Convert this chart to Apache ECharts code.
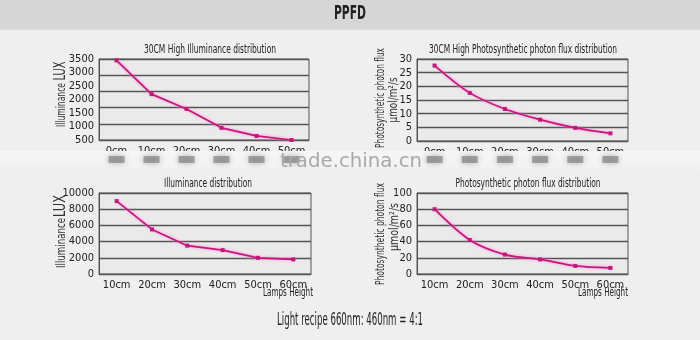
<!DOCTYPE html>
<html>
<head>
<meta charset="utf-8">
<script src="https://cdn.jsdelivr.net/npm/echarts@6/dist/echarts.min.js"></script>
<style>
  html, body { margin: 0; padding: 0; background: #efefef; }
  #chart { width: 700px; height: 340px; }
</style>
</head>
<body>
<div id="chart"></div>
<script>
// Lamp heights (x categories)
var heightsHigh = ['0cm', '10cm', '20cm', '30cm', '40cm', '50cm'];
var heightsLow = ['10cm', '20cm', '30cm', '40cm', '50cm', '60cm'];

// Measured values
var luxHigh = [3450, 2200, 1650, 950, 650, 500];
var ppfdHigh = [27.6, 17.6, 11.7, 7.8, 4.8, 2.8];
var luxLow = [9000, 5500, 3500, 2950, 2000, 1800];
var ppfdLow = [80, 42, 24, 18, 10, 7.5];

// Tick ranges
var luxHighTicks = { min: 500, max: 3500, interval: 500 };
var ppfdHighTicks = { min: 0, max: 30, interval: 5 };
var luxLowTicks = { min: 0, max: 10000, interval: 2000 };
var ppfdLowTicks = { min: 0, max: 100, interval: 20 };

var FONT = '"DejaVu Sans", sans-serif';
var LINE = '#c8157c';
var GRIDLINE = '#555';
var INK = '#222';

var chart = echarts.init(document.getElementById('chart'));

// width of a string in a given font, used to squeeze captions into a narrow face
var measureCtx = document.createElement('canvas').getContext('2d');
function textWidth(text, font) {
  measureCtx.font = font;
  return measureCtx.measureText(text).width;
}

// centred caption compressed horizontally to the given width
function caption(text, cx, cy, width, size, opts) {
  opts = opts || {};
  var weight = opts.weight || 'normal';
  var font = weight + ' ' + size + 'px ' + (opts.family || FONT);
  var w = textWidth(text, font);
  return {
    type: 'text', z: opts.z || 110,
    x: cx, y: cy,
    rotation: opts.rotation || 0,
    scaleX: width / w, scaleY: 1,
    style: {
      text: text, x: 0, y: 0, font: font,
      fill: opts.fill || INK, align: 'center', verticalAlign: 'middle',
      opacity: opts.opacity == null ? 1 : opts.opacity
    }
  };
}

function grid(l, t, w, h) {
  return {
    left: l, top: t, width: w, height: h, show: true,
    backgroundColor: '#eaeaea', borderColor: '#555', borderWidth: 1
  };
}

// tick labels use the condensed face of DejaVu Sans
var tickText = { color: INK, fontFamily: FONT, fontWeight: 'condensed', fontSize: 11 };

function xAxis(idx, cats) {
  return {
    type: 'category', gridIndex: idx, data: cats, boundaryGap: true,
    axisLine: { lineStyle: { color: '#555' } },
    axisTick: { show: false },
    axisLabel: Object.assign({ margin: 6, interval: 0 }, tickText),
    splitLine: { show: false }
  };
}

function yAxis(idx, ticks, showSplit) {
  return {
    type: 'value', gridIndex: idx,
    min: ticks.min, max: ticks.max, interval: ticks.interval,
    axisLine: { show: true, lineStyle: { color: '#555' } },
    axisTick: { show: false },
    axisLabel: Object.assign({
      margin: 5,
      formatter: function (v) { return String(v); }
    }, tickText),
    splitLine: { show: showSplit, lineStyle: { color: GRIDLINE, width: 1.3 } }
  };
}

function series(xi, yi, data, smooth) {
  return {
    type: 'line', xAxisIndex: xi, yAxisIndex: yi, data: data,
    smooth: smooth, symbol: 'rect', symbolSize: 4,
    itemStyle: { color: LINE },
    lineStyle: {
      color: LINE, width: 1.7,
      shadowColor: 'rgba(255,120,210,0.9)', shadowBlur: 3
    },
    clip: false, z: 5
  };
}

var option = {
  backgroundColor: '#efefef',
  animation: false,
  grid: [
    grid(99, 59, 210, 81),
    grid(417, 59, 211, 82),
    grid(99, 193, 212, 81),
    grid(417, 193, 211, 81)
  ],
  xAxis: [
    xAxis(0, heightsHigh),
    xAxis(1, heightsHigh),
    xAxis(2, heightsLow),
    xAxis(3, heightsLow)
  ],
  yAxis: [
    yAxis(0, luxHighTicks, false),
    yAxis(1, ppfdHighTicks, true),
    yAxis(2, luxLowTicks, true),
    yAxis(3, ppfdLowTicks, true),
    // five evenly spaced rules across the upper-left plot
    {
      type: 'value', gridIndex: 0, min: 0, max: 5, interval: 1, position: 'right',
      axisLine: { show: false }, axisTick: { show: false }, axisLabel: { show: false },
      splitLine: { show: true, lineStyle: { color: GRIDLINE, width: 1.3 } }
    }
  ],
  series: [
    series(0, 0, luxHigh, false),
    series(1, 1, ppfdHigh, 0.3),
    series(2, 2, luxLow, false),
    series(3, 3, ppfdLow, 0.3)
  ]
};

chart.setOption(option);

var VERT = Math.PI / 2;
var graphics = [
  // header band
  { type: 'rect', z: -10, shape: { x: 0, y: 0, width: 700, height: 29 }, style: { fill: '#d6d6d6' } },
  { type: 'rect', z: -10, shape: { x: 0, y: 29, width: 700, height: 1.5 }, style: { fill: '#e2e2e2' } },
  caption('PPFD', 350, 14, 32, 19, { weight: 'bold' }),

  // chart titles
  caption('30CM High Illuminance distribution', 210, 50, 132, 12.5),
  caption('30CM High Photosynthetic photon flux distribution', 523, 50, 188, 12.5),
  caption('Illuminance distribution', 208, 184, 88, 12.5),
  caption('Photosynthetic photon flux distribution', 528, 184, 145, 12.5),

  // y-axis names
  caption('LUX', 61, 71, 19, 15, { rotation: VERT, fill: '#333' }),
  caption('Illuminance', 61.5, 105, 44, 12, { rotation: VERT, fill: '#333' }),
  caption('LUX', 61, 206, 22, 15, { rotation: VERT, fill: '#333' }),
  caption('Illuminance', 61.5, 243, 50, 12, { rotation: VERT, fill: '#333' }),
  caption('Photosynthetic photon flux', 381, 98, 100, 12.5, { rotation: VERT, fill: '#333', z: 90 }),
  caption('μmol/m²/s', 394, 100, 45, 12.5, { rotation: VERT, fill: '#333' }),
  caption('Photosynthetic photon flux', 381, 234, 102, 12.5, { rotation: VERT, fill: '#333' }),
  caption('μmol/m²/s', 395, 227, 48, 12.5, { rotation: VERT, fill: '#333' }),

  // lamps height captions
  caption('Lamps Height', 288, 293, 50, 12.5),
  caption('Lamps Height', 603, 293, 50, 12.5),

  // recipe footer
  caption('Light recipe 660nm: 460nm = 4:1', 350, 321, 146, 17),

  // pale strip across the lower half of the upper x labels
  {
    type: 'rect', z: 100, shape: { x: 0, y: 151, width: 700, height: 23 },
    style: {
      fill: new echarts.graphic.LinearGradient(0, 0, 0, 1, [
        { offset: 0, color: '#f6f6f6' }, { offset: 0.6, color: '#f3f3f3' }, { offset: 1, color: '#ededed' }
      ])
    }
  },
  caption('trade.china.cn', 351, 162, 142, 20, { family: '"DejaVu Sans", sans-serif', fill: '#a8a8a8', z: 105 })
];

// smudged label shadows beneath each upper-row category
[0, 1].forEach(function (ai) {
  heightsHigh.forEach(function (c) {
    var px = chart.convertToPixel({ xAxisIndex: ai }, c);
    graphics.push({
      type: 'rect', z: 101,
      shape: { x: px - 8, y: 156, width: 16, height: 7 },
      style: { fill: 'rgba(110,110,110,0.55)', shadowColor: 'rgba(110,110,110,0.9)', shadowBlur: 6 }
    });
  });
});

chart.setOption({ graphic: graphics });
</script>
</body>
</html>
